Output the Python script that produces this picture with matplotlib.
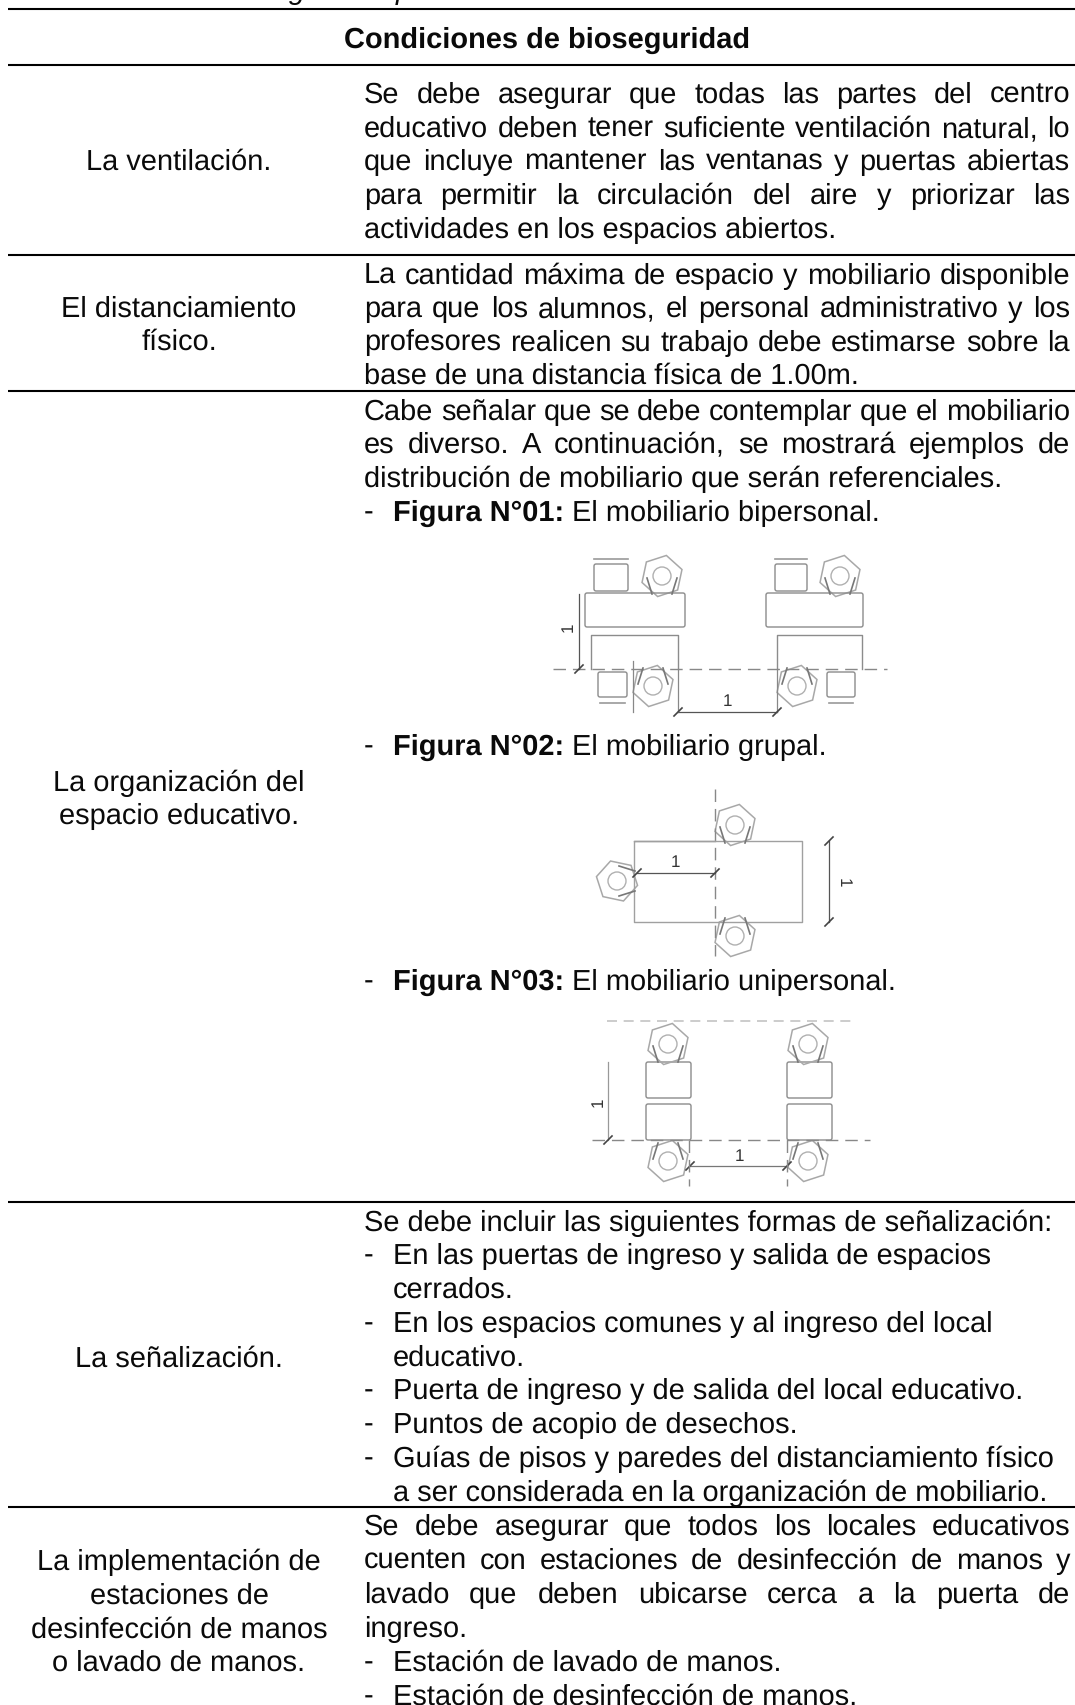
import matplotlib
matplotlib.use("Agg")
import matplotlib.pyplot as plt
from matplotlib.patches import FancyBboxPatch, Circle, Polygon
import numpy as np

plt.rcParams["text.hinting"] = "none"
plt.rcParams["text.hinting_factor"] = 1

W, H = 1075, 1706
DPI = 100
FS = 21.1
FONT = "Liberation Sans"

rule_ys = [10, 66, 256, 392, 1203, 1508]
header = "Condiciones de bioseguridad"

left_cells = [
    ("La ventilación.", 170),
    ("El distanciamiento", 317),
    ("físico.", 350),
    ("La organización del", 791),
    ("espacio educativo.", 824),
    ("La señalización.", 1367),
    ("La implementación de", 1570),
    ("estaciones de", 1604),
    ("desinfección de manos", 1638),
    ("o lavado de manos.", 1671),
]

justified = [
    ("Se debe asegurar que todas las partes del centro", 103),
    ("educativo deben tener suficiente ventilación natural, lo", 137),
    ("que incluye mantener las ventanas y puertas abiertas", 170),
    ("para permitir la circulación del aire y priorizar las", 204),
    ("La cantidad máxima de espacio y mobiliario disponible", 284),
    ("para que los alumnos, el personal administrativo y los", 317),
    ("profesores realicen su trabajo debe estimarse sobre la", 351),
    ("Cabe señalar que se debe contemplar que el mobiliario", 420),
    ("es diverso. A continuación, se mostrará ejemplos de", 453),
    ("Se debe asegurar que todos los locales educativos", 1535),
    ("cuenten con estaciones de desinfección de manos y", 1569),
    ("lavado que deben ubicarse cerca a la puerta de", 1603),
]

plain = [
    ("actividades en los espacios abiertos.", 238),
    ("base de una distancia física de 1.00m.", 384),
    ("distribución de mobiliario que serán referenciales.", 487),
    ("Se debe incluir las siguientes formas de señalización:", 1231),
    ("ingreso.", 1637),
]

bullets = [
    ("En las puertas de ingreso y salida de espacios", 1264, True),
    ("cerrados.", 1298, False),
    ("En los espacios comunes y al ingreso del local", 1332, True),
    ("educativo.", 1366, False),
    ("Puerta de ingreso y de salida del local educativo.", 1399, True),
    ("Puntos de acopio de desechos.", 1433, True),
    ("Guías de pisos y paredes del distanciamiento físico", 1467, True),
    ("a ser considerada en la organización de mobiliario.", 1501, False),
    ("Estación de lavado de manos.", 1671, True),
    ("Estación de desinfección de manos.", 1705, True),
]

figure_items = [
    ("Figura N°01:", "El mobiliario bipersonal.", 521),
    ("Figura N°02:", "El mobiliario grupal.", 755),
    ("Figura N°03:", "El mobiliario unipersonal.", 990),
]

fig = plt.figure(figsize=(W / DPI, H / DPI), dpi=DPI, facecolor="white")
ax = fig.add_axes([0, 0, 1, 1])
ax.set_xlim(0, W)
ax.set_ylim(H, 0)
ax.axis("off")
renderer = fig.canvas.get_renderer()
INK = "#0a0a0a"


def txt(x, y, s, ha="left", weight="normal", **kw):
    return ax.text(x, y, s, ha=ha, va="baseline", fontsize=kw.pop("fs", FS),
                   family=FONT, weight=weight, color=kw.pop("color", INK), **kw)


def width(s, weight="normal"):
    t = txt(0, 0, s, weight=weight)
    w = t.get_window_extent(renderer).width
    t.remove()
    return w


# rules
for y in rule_ys:
    ax.plot([8, W], [y, y], color="black", lw=1.5, solid_capstyle="butt")

# clipped caption descenders
txt(289, -1, "g", style="italic", clip_on=True)
txt(396, -1, "p", style="italic", clip_on=True)

txt(547, 48, header, ha="center", weight="bold")

for s, y in left_cells:
    txt(179, y, s, ha="center")

XL, XR = 364, 1070
XI = 393
for s, y in justified:
    words = s.split()
    ws = [width(w) for w in words]
    gap = (XR - XL - sum(ws)) / (len(words) - 1)
    x = XL
    for w, wd in zip(words, ws):
        txt(x, y, w)
        x += wd + gap

for s, y in plain:
    txt(XL, y, s)

for s, y, dash_on in bullets:
    if dash_on:
        txt(XL, y, "-")
    txt(XI, y, s)

for b, s, y in figure_items:
    txt(XL, y, "-")
    txt(XI, y, b, weight="bold")
    txt(XI + width(b, "bold") + 8, y, s)

# ---- schematic furniture drawings ----
GREY = "#8c8c8c"
DARK = "#555555"


def box(x0, y0, x1, y1, c=GREY):
    ax.add_patch(FancyBboxPatch((x0 + 2, y0 + 2), x1 - x0 - 4, y1 - y0 - 4,
                                boxstyle="round,pad=2", fc="none", ec=c, lw=1.0))


def seg(xs, ys, c=DARK, lw=0.9, ls="-"):
    ax.plot(xs, ys, color=c, lw=lw, ls=ls)


def dash(xs, ys):
    seg(xs, ys, c="#888888", lw=1.0, ls=(0, (9, 5)))


def person(cx, cy, ang):
    r = 21
    th = np.deg2rad(np.arange(0, 360, 60) + 12 + ang)
    ax.add_patch(Polygon(np.c_[cx + r * np.cos(th), cy + r * np.sin(th)],
                         closed=True, fc="none", ec="#a8a8a8", lw=1.1))
    ax.add_patch(Circle((cx, cy), 9, fc="none", ec="#b0b0b0", lw=1.0))
    a = np.deg2rad(ang)
    d = np.array([np.cos(a), np.sin(a)])
    n = np.array([-d[1], d[0]])
    for sgn in (-1, 1):
        p0 = np.array([cx, cy]) + sgn * n * 15 + d * 2
        p1 = p0 + d * 16 - sgn * n * 5
        seg([p0[0], p1[0]], [p0[1], p1[1]], c="#777777", lw=1.2)


def tick(x, y):
    seg([x - 4, x + 4], [y + 4, y - 4], c="#444444", lw=1.2)


def one(x, y, rot=0):
    ax.text(x, y, "1", ha="center", va="center", fontsize=12.5, family=FONT,
            color="#333333", rotation=rot)


# Figure 1
for x0, x1, px in [(594, 628, 662), (775, 807, 840)]:
    box(x0, 565, x1, 592)
    seg([x0, x1], [560, 560], c="#999999", lw=1.2)
    person(px, 577, 90)
box(585, 594, 685, 628)
box(766, 594, 863, 628)
ax.plot([591, 591, 678, 678], [670, 636, 636, 670], color=GREY, lw=1.0)
ax.plot([777, 777, 862, 862], [670, 636, 636, 670], color=GREY, lw=1.0)
dash([553, 887], [670, 670])
for x0, x1 in [(598, 627), (827, 855)]:
    box(x0, 673, x1, 698)
    seg([x0 + 2, x1 - 2], [704, 704], c="#999999", lw=1.2)
person(653, 687, -90)
person(797, 687, -90)
seg([579, 579], [595, 670])
tick(579, 670)
one(568, 627, 90)
seg([678, 777], [713, 713])
seg([678, 678], [670, 713], c="#888888")
seg([777, 777], [670, 713], c="#888888")
seg([633, 633], [662, 713], c="#888888")
tick(678, 713)
tick(777, 713)
one(727, 702)

# Figure 2
ax.plot([715, 634, 634, 802, 802, 634], [842, 842, 923, 923, 842, 842], color="#a0a0a0", lw=1.0)
dash([715, 715], [790, 957])
person(735, 826, 90)
person(617, 882, 0)
person(735, 937, -90)
seg([637, 715], [874, 874])
tick(637, 874)
tick(715, 874)
one(675, 863)
seg([829, 829], [842, 923])
tick(829, 842)
tick(829, 923)
one(843, 883, -90)

# Figure 3
seg([607, 853], [1022, 1022], c="#c4c4c4", lw=1.2, ls=(0, (6, 4)))
for x0, x1, px in [(646, 691, 668), (787, 832, 808)]:
    box(x0, 1063, x1, 1099)
    box(x0, 1105, x1, 1141)
    person(px, 1045, 90)
    person(px, 1162, -90)
dash([592, 870], [1141, 1141])
seg([608, 608], [1063, 1141], c="#999999")
tick(608, 1141)
one(598, 1102, 90)
seg([690, 787], [1167, 1167], c="#777777")
tick(690, 1167)
tick(787, 1167)
dash([689, 689], [1141, 1187])
dash([787, 787], [1141, 1187])
one(739, 1157)

fig.savefig("out.png", dpi=DPI, facecolor="white")
